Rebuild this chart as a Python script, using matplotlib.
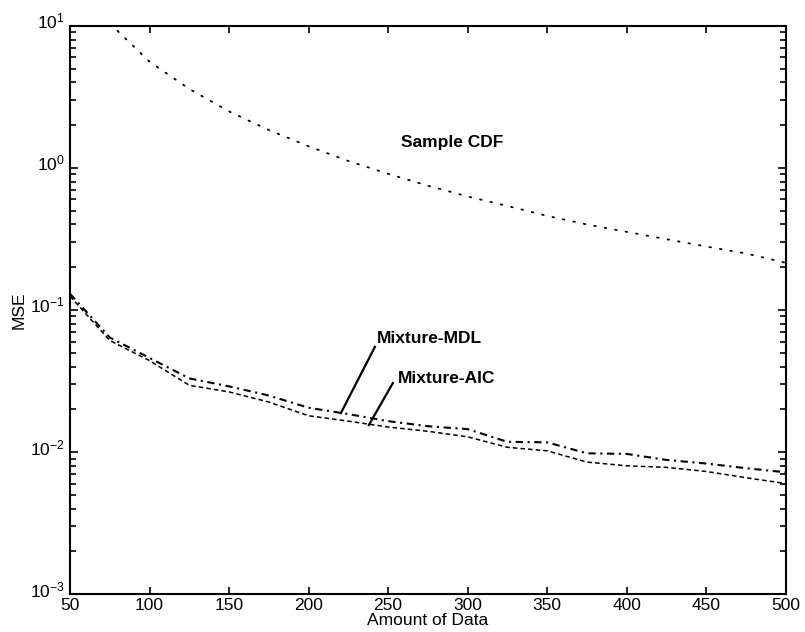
import matplotlib
matplotlib.use("Agg")
import matplotlib.pyplot as plt
import matplotlib.transforms as mtransforms
from matplotlib.ticker import LogLocator, FixedLocator, NullFormatter

plt.rcParams['font.family'] = ['Liberation Sans', 'DejaVu Sans']
plt.rcParams['mathtext.fontset'] = 'custom'
plt.rcParams['mathtext.rm'] = 'Liberation Sans'
plt.rcParams['mathtext.it'] = 'Liberation Sans'
plt.rcParams['axes.unicode_minus'] = False

# Amount of data (sample size)
n_cdf = [75, 100, 125, 150, 175, 200, 225, 250, 275, 300, 325, 350, 375,
         400, 425, 450, 475, 500]
mse_cdf = [10.4, 5.6, 3.6, 2.5, 1.85, 1.42, 1.12, 0.91, 0.75, 0.63, 0.54,
           0.46, 0.40, 0.355, 0.315, 0.28, 0.25, 0.215]

n_mix = [50, 75, 100, 125, 150, 175, 200, 225, 250, 275, 300, 325, 350,
         375, 400, 425, 450, 475, 500]
mse_mdl = [0.130, 0.064, 0.046, 0.033, 0.029, 0.025, 0.0205, 0.0185, 0.0165,
           0.0152, 0.0145, 0.0118, 0.0117, 0.0098, 0.0097, 0.0088, 0.0083,
           0.0077, 0.0072]
mse_aic = [0.125, 0.061, 0.044, 0.0295, 0.0265, 0.0225, 0.018, 0.0165, 0.015,
           0.0140, 0.0128, 0.0108, 0.0102, 0.0085, 0.0080, 0.0078, 0.0073,
           0.0066, 0.0060]

x_ticks = [50, 100, 150, 200, 250, 300, 350, 400, 450, 500]

fig = plt.figure(figsize=(8.05, 6.32), dpi=100)
ax = fig.add_axes([0.087, 0.060, 0.889, 0.899])

ax.plot(n_cdf, mse_cdf, color='black', lw=1.3, linestyle=(0, (0.9, 5.0)),
        dash_capstyle='round')
ax.plot(n_mix, mse_mdl, color='black', lw=1.5,
        linestyle=(0, (3.5, 2.2, 1.0, 2.2)))
ax.plot(n_mix, mse_aic, color='black', lw=1.1, linestyle=(0, (3.0, 2.0)))

ax.set_yscale('log')
ax.set_xlim(50, 500)
ax.set_ylim(1e-3, 1e1)
ax.xaxis.set_major_locator(FixedLocator(x_ticks))
ax.yaxis.set_major_locator(LogLocator(base=10, numticks=10))
ax.yaxis.set_minor_locator(LogLocator(base=10, subs=range(2, 10), numticks=10))
ax.yaxis.set_minor_formatter(NullFormatter())

ax.tick_params(axis='both', which='both', direction='in', top=True,
               right=True, labelsize=12.5, width=1.2)
ax.tick_params(axis='y', which='major', length=6, pad=4)
ax.tick_params(axis='x', which='major', length=5, pad=3)
ax.tick_params(axis='both', which='minor', length=4)
for sp in ax.spines.values():
    sp.set_linewidth(1.5)

# lift the decade labels slightly so the bottom one clears the x labels
lift = mtransforms.ScaledTranslation(0, 4 / 72, fig.dpi_scale_trans)
for lbl in ax.get_yticklabels():
    lbl.set_transform(lbl.get_transform() + lift)

ax.set_xlabel('Amount of Data', fontsize=12.5, labelpad=0)
ax.set_ylabel('MSE', fontsize=12.5, labelpad=2)

ax.text(290, 1.5, 'Sample CDF', fontsize=12.5, fontweight='bold',
        ha='center', va='center')
ax.text(243, 0.0625, 'Mixture-MDL', fontsize=12.5, fontweight='bold',
        ha='left', va='center')
ax.plot([241.7, 220.3], [0.055, 0.0188], color='black', lw=1.6)
ax.text(256, 0.0332, 'Mixture-AIC', fontsize=12.5, fontweight='bold',
        ha='left', va='center')
ax.plot([253, 237.9], [0.0306, 0.0155], color='black', lw=1.6)

fig.savefig('out.png', dpi=100)
